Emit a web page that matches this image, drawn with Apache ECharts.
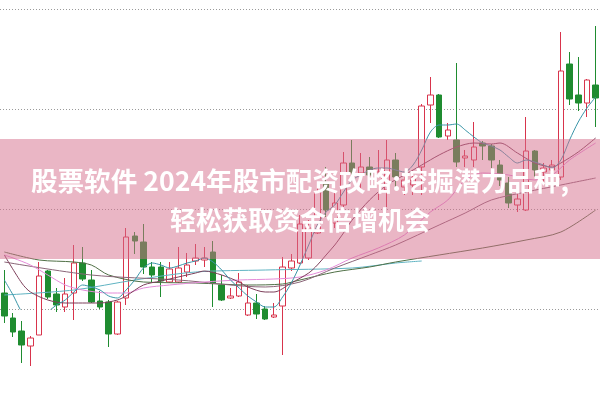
<!DOCTYPE html>
<html><head><meta charset="utf-8">
<script src="https://cdn.jsdelivr.net/npm/echarts@6/dist/echarts.min.js"></script>
<style>html,body{margin:0;padding:0;background:#fff}#c{width:600px;height:399px}</style>
</head><body><div id="c"></div>
<script>
// candles: [open, close, low, high]
const candles = [
[10.16,9.93,9.86,10.39],[9.91,9.77,9.72,9.96],[9.78,9.64,9.46,9.88],[9.63,9.71,9.43,9.73],[9.74,10.33,9.74,10.47],
[10.38,10.12,10.10,10.39],[10.15,10.04,9.97,10.21],[10.02,10.15,9.97,10.31],[10.16,10.46,9.89,10.64],[10.46,10.30,10.28,10.62],
[10.29,10.07,10.06,10.39],[10.08,10.02,10.00,10.18],[10.07,9.75,9.62,10.09],[9.75,10.07,9.74,10.08],[10.11,10.72,10.04,10.81],
[10.73,10.68,10.55,10.77],[10.67,10.42,10.35,10.85],[10.42,10.34,10.27,10.47],[10.42,10.28,10.12,10.47],[10.27,10.40,10.26,10.47],
[10.27,10.41,10.26,10.62],[10.37,10.44,10.32,10.56],[10.48,10.51,10.44,10.65],[10.49,10.51,10.42,10.62],[10.57,10.26,10.02,10.68],
[10.24,10.09,10.08,10.34],[10.11,10.13,10.10,10.21],[10.13,10.27,10.12,10.36],[9.94,10.06,9.93,10.24],[10.06,9.95,9.90,10.15],
[10.00,9.90,9.89,10.03],[9.92,9.94,9.91,10.06],[10.03,10.42,9.54,10.52],[10.41,10.48,10.38,10.55],[10.46,10.85,10.45,10.94],
[10.51,10.81,10.49,10.89],[10.76,11.17,10.75,11.26],[11.26,10.99,10.92,11.42],[10.86,11.06,10.81,11.19],[11.04,11.46,11.02,11.57],
[11.46,11.37,11.29,11.69],[11.36,11.42,11.19,11.56],[11.42,11.34,11.32,11.52],[11.27,11.37,11.09,11.59],[11.19,11.49,11.02,11.69],
[11.49,11.32,11.19,11.56],[11.22,11.29,11.14,11.32],[11.24,11.31,11.14,11.39],[11.42,12.03,11.14,12.05],[12.04,12.14,11.86,12.32],
[12.14,11.72,11.71,12.15],[11.73,11.79,11.69,11.86],[11.69,11.47,11.42,12.46],[11.51,11.53,11.42,11.59],[11.49,11.62,11.42,11.87],
[11.66,11.63,11.49,11.68],[11.63,11.49,11.41,11.65],[11.44,11.29,11.23,11.49],[11.26,11.06,11.01,11.32],[11.04,11.10,10.97,11.21],
[10.99,11.58,10.98,11.92],[11.58,11.39,11.32,11.59],[11.37,11.41,11.27,11.46],[11.39,11.44,11.31,11.49],[11.32,12.38,11.29,12.77],
[12.45,12.10,12.04,12.57],[12.14,12.06,11.98,12.52],[12.06,12.29,11.92,12.30],[12.24,12.11,11.82,12.83]
];
const ma5 = [10.29,10.14,9.97,9.87,9.89,9.97,10.04,10.09,10.17,10.24,10.22,10.19,10.13,10.11,10.19,10.29,10.41,10.46,10.44,10.41,10.43,10.46,10.48,10.51,10.47,10.39,10.29,10.21,10.13,10.07,10.02,10.02,10.12,10.26,10.44,10.64,10.84,10.97,11.04,11.17,11.29,11.34,11.39,11.41,11.41,11.39,11.37,11.44,11.59,11.77,11.84,11.84,11.85,11.79,11.72,11.66,11.63,11.59,11.52,11.46,11.49,11.47,11.44,11.41,11.49,11.69,11.87,12.01,12.12];
function sparse(pairs){const a=new Array(candles.length).fill(null);pairs.forEach(p=>a[p[0]]=p[1]);return a;}
const ma10 = sparse([[0,10.54],[2,10.26],[3,10.17],[5,10.09],[7,10.06],[9,10.06],[11,10.06],[13,10.09],[14,10.13],[16,10.24],[18,10.28],[20,10.32],[22,10.36],[23,10.38],[25,10.34],[27,10.27],[28,10.22],[30,10.17],[31,10.17],[33,10.26],[35,10.36],[36,10.44],[37,10.54],[38,10.64],[39,10.76],[40,10.89],[42,11.09],[44,11.24],[46,11.34],[48,11.44],[50,11.54],[52,11.62],[54,11.66],[56,11.65],[57,11.66],[59,11.56],[61,11.46],[63,11.42],[64,11.46],[66,11.57],[68,11.71]]);
const ma20 = sparse([[0,10.54],[1,10.51],[3,10.44],[5,10.34],[7,10.24],[9,10.19],[12,10.16],[14,10.16],[16,10.21],[19,10.24],[23,10.27],[27,10.29],[31,10.30],[34,10.32],[37,10.39],[40,10.51],[43,10.61],[46,10.74],[49,10.97],[51,11.09],[53,11.29],[55,11.36],[58,11.34],[61,11.29],[63,11.34],[65,11.49],[68,11.66]]);
const ma30 = sparse([[0,10.47],[10,10.34],[20,10.29],[30,10.22],[34,10.27],[38,10.41],[42,10.54],[45,10.64],[50,10.84],[53,10.96],[56,11.09],[60,11.17],[64,11.24],[68,11.31]]);
const ma60 = sparse([[0,10.57],[4,10.49],[8,10.47],[10,10.44],[12,10.34],[16,10.27],[22,10.26],[28,10.24],[32,10.25],[34,10.29],[38,10.37],[42,10.42],[45,10.47],[50,10.54],[55,10.61],[60,10.69],[64,10.77],[68,10.99]]);
const ma120 = sparse([[0,10.14],[8,10.19],[15,10.29],[22,10.37],[30,10.39],[40,10.41],[45,10.46],[48,10.48]]);
const cats = candles.map((_, i) => String(i));
const titleLines = ['股票软件 2024年股市配资攻略:挖掘潜力品种,', '轻松获取资金倍增机会'];

const chart = echarts.init(document.getElementById('c'), null, {renderer:'canvas'});
function ln(data, color){return {type:'line', data, connectNulls:true, smooth:0.3, symbol:'none', lineStyle:{width:1,color}, z:3, silent:true};}
chart.setOption({
  animation:false,
  grid:{left:-4,right:0,top:9,bottom:90},
  xAxis:{type:'category',data:cats,show:false,boundaryGap:true},
  yAxis:{type:'value',min:10,max:13,interval:1,axisLine:{show:false},axisTick:{show:false},axisLabel:{show:false},
    splitLine:{show:true,lineStyle:{color:'#9a9a9a',type:[1,2],width:1}}},
  series:[
    {type:'candlestick',data:candles,barWidth:6,clip:false,z:2,
     itemStyle:{color:'#ffffff',color0:'#1f8c30',borderColor:'#d8344c',borderColor0:'#1f8c30',borderWidth:1}},
    ln(ma120,'#5fb3c2'),
    ln(ma60,'#4f6f45'),
    ln(ma30,'#8a6578'),
    ln(ma20,'#e48ad8'),
    ln(ma10,'#7d3f5a'),
    ln(ma5,'#3a95a8')
  ],
  graphic:[
    {type:'rect',left:0,top:139,shape:{width:600,height:120},style:{fill:'rgba(214,110,140,0.5)'},z:100},
    {type:'text',x:300,y:181,style:{text:titleLines[0],fill:'#ffffff',font:'bold 26.6px "Noto Sans CJK SC"',align:'center',verticalAlign:'middle'},z:101},
    {type:'text',x:300,y:220,style:{text:titleLines[1],fill:'#ffffff',font:'bold 26px "Noto Sans CJK SC"',align:'center',verticalAlign:'middle'},z:101}
  ]
});
</script></body></html>
